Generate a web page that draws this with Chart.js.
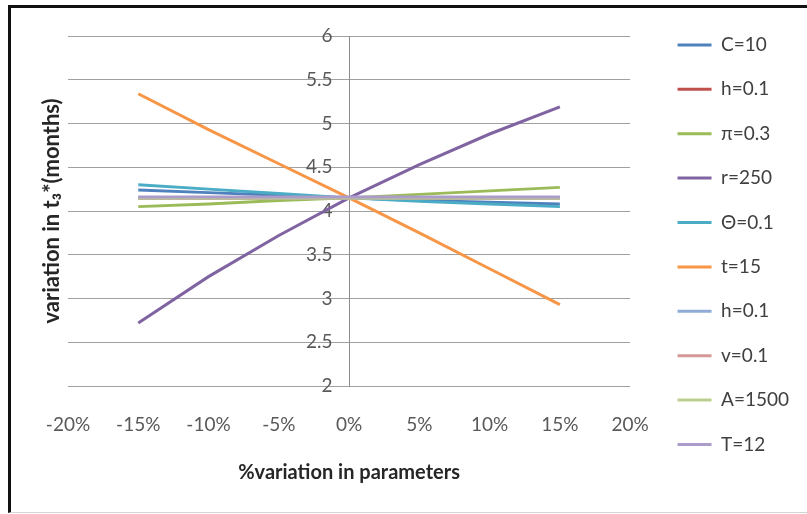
<!DOCTYPE html>
<html>
<head>
<meta charset="utf-8">
<title>Sensitivity of t3*</title>
<script src="https://cdn.jsdelivr.net/npm/chart.js@4.4.1/dist/chart.umd.min.js"></script>
<style>
  html, body { margin: 0; padding: 0; background: #fff; }
  #frame {
    position: absolute;
    left: 8px;
    top: 5px;
    width: 796px;
    height: 504px;
    border-top: 3px solid #111;
    border-left: 3px solid #111;
    border-bottom: 1px solid #d4d4d4;
  }
  #box { position: relative; width: 796px; height: 504px; }
</style>
</head>
<body>
<div id="frame">
  <div id="box"><canvas id="sensChart"></canvas></div>
</div>
<script>
// % change applied to each parameter
const variation = [-15, -10, -5, 0, 5, 10, 15];

// t3* (months) for each parameter as it is varied
const seriesC = [4.24, 4.21, 4.18, 4.15, 4.12, 4.10, 4.08];
const seriesH = [4.15, 4.15, 4.15, 4.15, 4.15, 4.15, 4.15];
const seriesPi = [4.05, 4.08, 4.12, 4.15, 4.19, 4.23, 4.27];
const seriesR = [2.72, 3.25, 3.72, 4.15, 4.53, 4.88, 5.19];
const seriesTheta = [4.30, 4.25, 4.20, 4.15, 4.11, 4.08, 4.05];
const seriesT15 = [5.34, 4.93, 4.54, 4.15, 3.75, 3.34, 2.93];
const seriesH2 = [4.15, 4.15, 4.15, 4.15, 4.15, 4.15, 4.15];
const seriesV = [4.15, 4.15, 4.15, 4.15, 4.15, 4.15, 4.15];
const seriesA = [4.15, 4.15, 4.15, 4.15, 4.15, 4.15, 4.15];
const seriesT12 = [4.16, 4.16, 4.16, 4.16, 4.16, 4.16, 4.16];

const seriesLabels = ["C=10", "h=0.1", "\u03c0=0.3", "r=250", "\u0398=0.1", "t=15", "h=0.1", "v=0.1", "A=1500", "T=12"];
const seriesValues = [seriesC, seriesH, seriesPi, seriesR, seriesTheta, seriesT15, seriesH2, seriesV, seriesA, seriesT12];
const seriesColors = ["#4f81bd", "#c0504d", "#9bbb59", "#8064a2", "#4bacc6", "#f79646", "#8fabd6", "#d49896", "#b9d08c", "#ab9cca"];

const yTicks = [2, 2.5, 3, 3.5, 4, 4.5, 5, 5.5, 6];

const FONT = "Lato, 'Open Sans', sans-serif";

const datasets = seriesValues.map((vals, i) => ({
  label: seriesLabels[i],
  data: vals.map((v, j) => ({ x: variation[j], y: v })),
  borderColor: seriesColors[i],
  backgroundColor: seriesColors[i],
  borderWidth: 3,
  pointRadius: 0,
  tension: 0,
  fill: false,
  xAxisID: "x",
  yAxisID: "y",
  order: seriesValues.length - i // later series sit on top
}));

new Chart(document.getElementById("sensChart"), {
  type: "line",
  data: { datasets: datasets },
  options: {
    responsive: true,
    maintainAspectRatio: false,
    animation: false,
    layout: { padding: { top: 2, right: 8, bottom: 20, left: 0 } },
    plugins: {
      tooltip: { enabled: false },
      legend: {
        display: true,
        position: "right",
        align: "start",
        maxWidth: 200,
        labels: {
          usePointStyle: true,
          pointStyle: "line",
          pointStyleWidth: 34,
          padding: 25.4,
          color: "#404040",
          font: { family: FONT, size: 19 },
          sort: (a, b) => a.datasetIndex - b.datasetIndex
        }
      }
    },
    scales: {
      x: {
        type: "linear",
        position: "bottom",
        min: -20,
        max: 20,
        afterFit: (scale) => { scale.height = 106; },
        ticks: {
          stepSize: 5,
          padding: 19,
          color: "#595959",
          font: { family: FONT, size: 19 },
          callback: (v) => v + "%"
        },
        grid: { display: false },
        border: { display: false },
        title: {
          display: true,
          text: "%variation in parameters",
          color: "#262626",
          font: { family: FONT, size: 20, weight: "bold" },
          padding: { top: 0, bottom: 7 }
        }
      },
      y: {
        type: "linear",
        position: { x: 0 },
        min: 2,
        max: 6,
        afterBuildTicks: (scale) => { scale.ticks = yTicks.map(v => ({ value: v })); },
        ticks: {
          color: "#595959",
          font: { family: FONT, size: 19 },
          // labels sit a little left of the axis line
          callback: (v) => String(v) + "\u2003\u2009"
        },
        grid: { color: "#a0a0a0", lineWidth: 1, drawTicks: false },
        border: { display: true, color: "#8c8c8c", width: 1 }
      },
      // left strip holding the vertical axis title
      yTitle: {
        type: "linear",
        position: "left",
        afterFit: (scale) => { scale.width = 57; },
        ticks: { display: false },
        grid: { display: false },
        border: { display: false },
        title: {
          display: true,
          text: "variation in t\u2083*(months)",
          color: "#262626",
          font: { family: FONT, size: 22, weight: "bold" },
          padding: { top: 28, bottom: 0 }
        }
      },
      // spacing above the plot and before the legend
      xTop: {
        type: "linear",
        position: "top",
        afterFit: (scale) => { scale.height = 26; },
        ticks: { display: false },
        grid: { display: false },
        border: { display: false }
      },
      yGap: {
        type: "linear",
        position: "right",
        afterFit: (scale) => { scale.width = 22; },
        ticks: { display: false },
        grid: { display: false },
        border: { display: false }
      }
    }
  }
});
</script>
</body>
</html>
